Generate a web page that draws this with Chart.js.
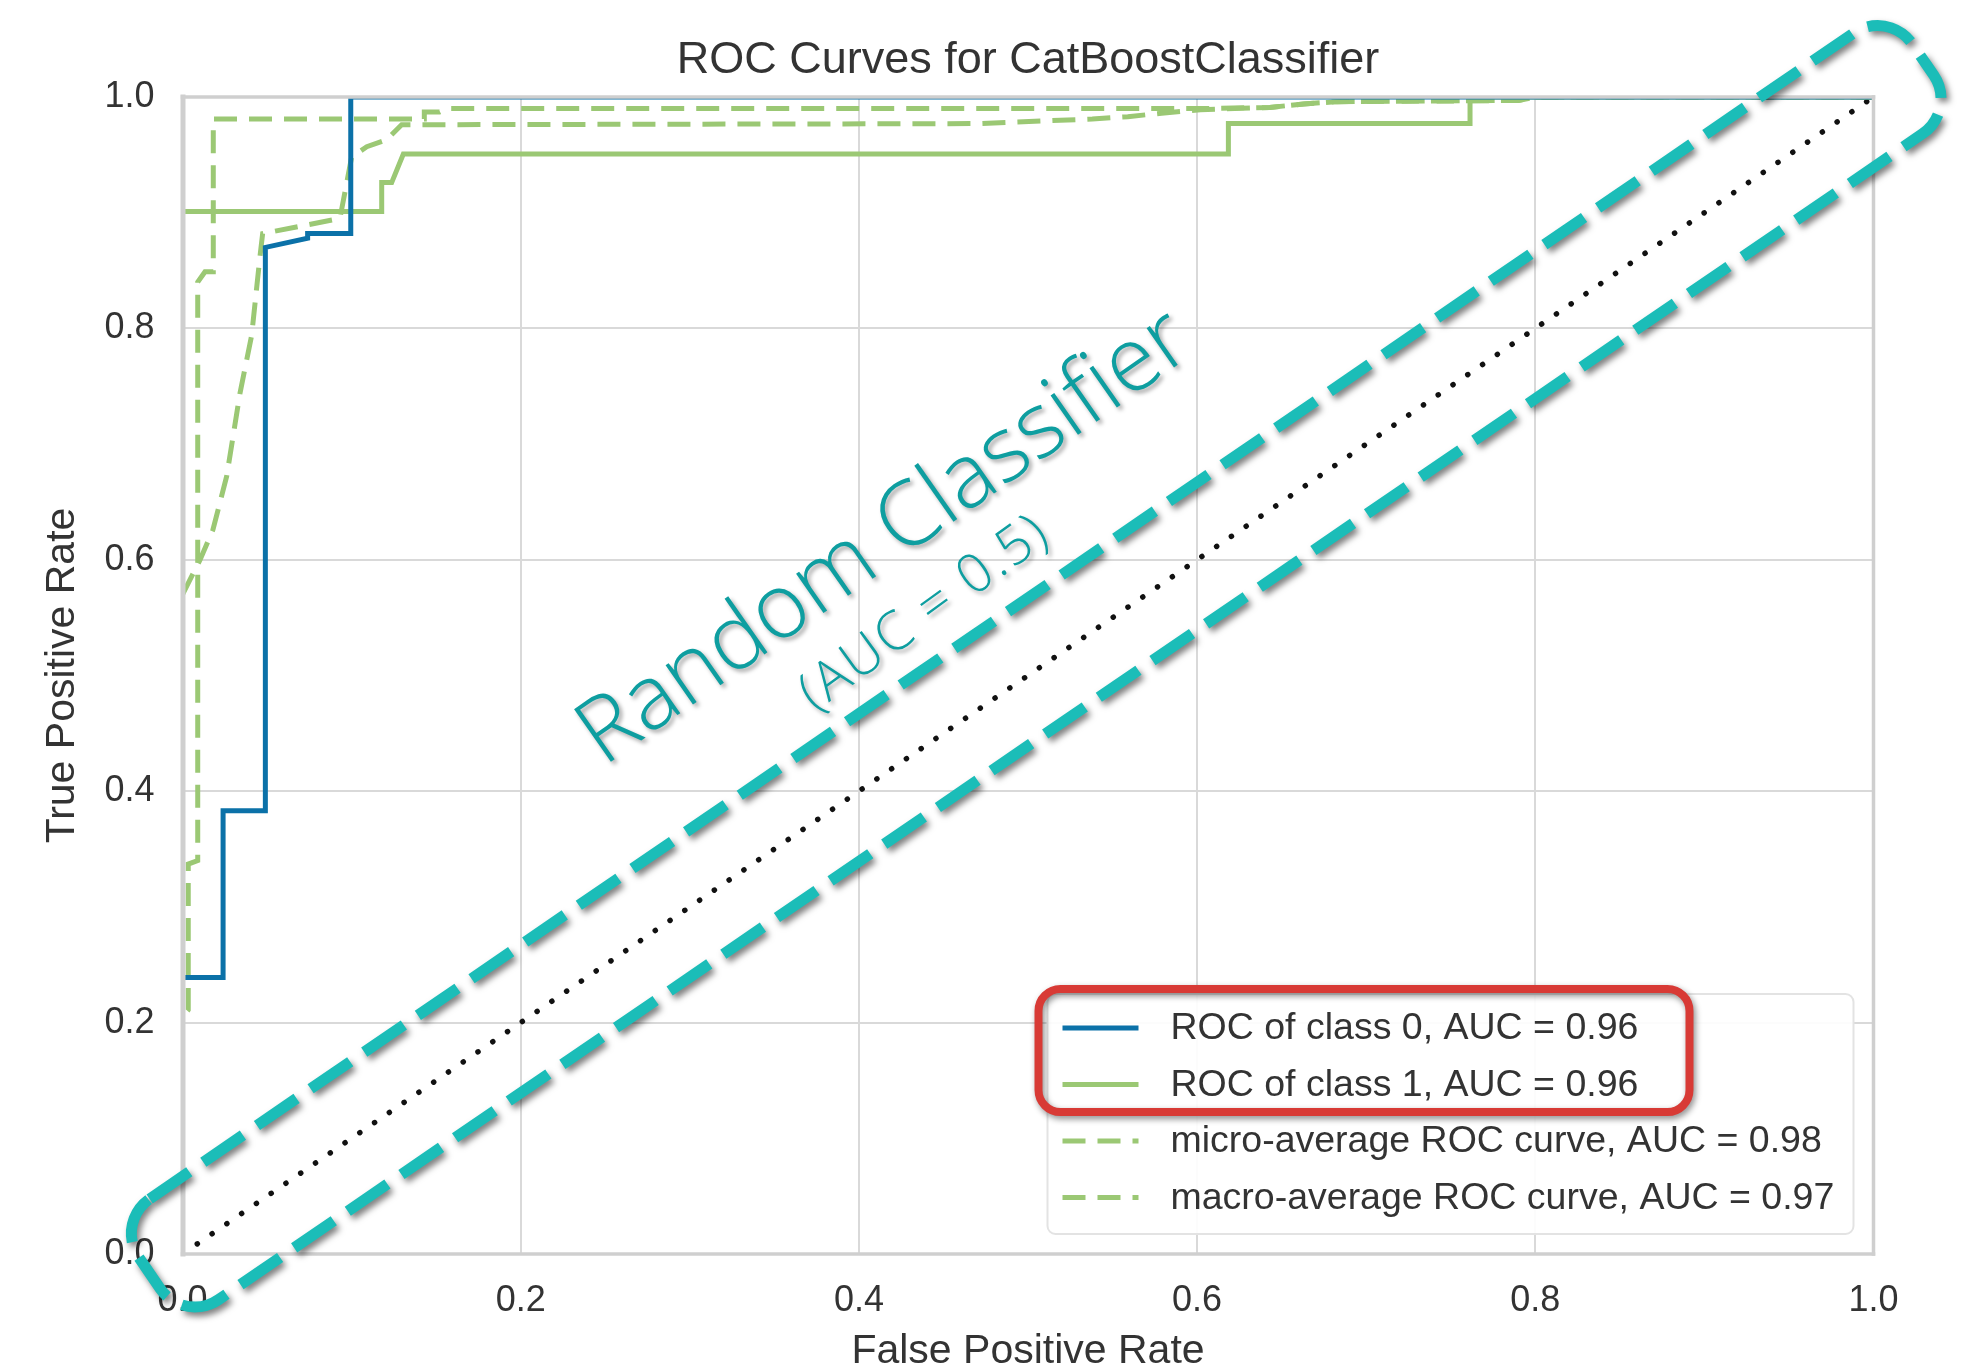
<!DOCTYPE html>
<html><head><meta charset="utf-8">
<script src="https://cdn.jsdelivr.net/npm/chart.js@4.4.0/dist/chart.umd.min.js"></script>
<style>html,body{margin:0;padding:0;background:#fff;}#wrap{width:1983px;height:1372px;}</style>
</head><body><div id="wrap"><canvas id="c" width="1983" height="1372"></canvas></div>
<script>
// ---------- data ----------
const chartTitle = 'ROC Curves for CatBoostClassifier';
const xAxisTitle = 'False Positive Rate';
const yAxisTitle = 'True Positive Rate';
const tickValues = [0, 0.2, 0.4, 0.6, 0.8, 1.0];
const tickLabels = ['0.0', '0.2', '0.4', '0.6', '0.8', '1.0'];
const seriesLabels = ['ROC of class 0, AUC = 0.96', 'ROC of class 1, AUC = 0.96',
  'micro-average ROC curve, AUC = 0.98', 'macro-average ROC curve, AUC = 0.97'];

const class0FPR = [0, 0, 0.024, 0.024, 0.049, 0.049, 0.074, 0.074, 0.0995, 0.0995, 1];
const class0TPR = [0, 0.239, 0.239, 0.383, 0.383, 0.870, 0.878, 0.882, 0.882, 1, 1];

const class1FPR = [0, 0, 0.1178, 0.1178, 0.1237, 0.1306, 0.6185, 0.6185, 0.7614, 0.7614, 1];
const class1TPR = [0, 0.901, 0.901, 0.926, 0.926, 0.9507, 0.9507, 0.977, 0.977, 1, 1];

const microFPR = [0, 0, 0.0034, 0.0034, 0.0090, 0.0090, 0.0133, 0.0182, 0.0182, 0.136, 0.143, 0.143, 0.152, 0.156, 0.60, 0.643, 0.663, 0.683, 0.79, 0.80, 1];
const microTPR = [0, 0.205, 0.211, 0.337, 0.340, 0.840, 0.849, 0.849, 0.981, 0.981, 0.981, 0.987, 0.987, 0.990, 0.990, 0.991, 0.994, 0.996, 0.997, 1, 1];

const macroFPR = [0, 0.0104, 0.018, 0.0261, 0.034, 0.0409, 0.0458, 0.0474, 0.0931, 0.100, 0.109, 0.1207, 0.1296, 0.47, 0.538, 0.559, 0.579, 0.602, 0.643, 0.663, 0.683, 0.79, 0.80, 1];
const macroTPR = [0.570, 0.600, 0.626, 0.672, 0.744, 0.794, 0.862, 0.882, 0.895, 0.948, 0.957, 0.963, 0.976, 0.977, 0.981, 0.983, 0.986, 0.989, 0.991, 0.994, 0.996, 0.997, 1, 1];

const diagFPR = [0, 1];
const diagTPR = [0, 1];

const annotationMain = 'Random Classifier';
const annotationSub = '(AUC = 0.5)';

// ---------- helpers ----------
const pts = (xs, ys) => xs.map((v, i) => ({x: v, y: ys[i]}));
const BLUE = '#0b71a8', GREEN = '#9bc874', TEAL = '#1bbdb8', TEAL_TXT = '#0e9ea0', RED = '#d83a35';
const FONT = '"Liberation Sans", Arial, sans-serif';
const ANN_FONT = '"Open Sans", Lato, sans-serif';
const TXT = '#333333';

function rrPath(ctx, x, y, w, h, r) {
  ctx.beginPath();
  ctx.moveTo(x + r, y);
  ctx.lineTo(x + w - r, y);
  ctx.arcTo(x + w, y, x + w, y + r, r);
  ctx.lineTo(x + w, y + h - r);
  ctx.arcTo(x + w, y + h, x + w - r, y + h, r);
  ctx.lineTo(x + r, y + h);
  ctx.arcTo(x, y + h, x, y + h - r, r);
  ctx.lineTo(x, y + r);
  ctx.arcTo(x, y, x + r, y, r);
  ctx.closePath();
}

const framePlugin = {
  id: 'frame',
  afterDatasetsDraw(chart) {
    const {ctx, chartArea: a} = chart;
    ctx.save();
    ctx.strokeStyle = '#cfcfcf';
    ctx.lineCap = 'square';
    const seg = (x1, y1, x2, y2, w) => { ctx.lineWidth = w; ctx.beginPath(); ctx.moveTo(x1, y1); ctx.lineTo(x2, y2); ctx.stroke(); };
    seg(a.left, a.top, a.right, a.top, 3.5);
    seg(a.right, a.top, a.right, a.bottom, 3.5);
    seg(a.left, a.bottom, a.right, a.bottom, 3.5);
    seg(a.left + 0.5, a.top, a.left + 0.5, a.bottom, 5);
    ctx.restore();
  }
};

const overlayPlugin = {
  id: 'overlay',
  afterDraw(chart) {
    const {ctx, chartArea: a, scales: {x, y}} = chart;
    // ---- chart title centred over the plot area ----
    ctx.save();
    ctx.fillStyle = TXT;
    ctx.font = '45px ' + FONT;
    ctx.textAlign = 'center';
    ctx.textBaseline = 'alphabetic';
    ctx.fillText(chartTitle, (a.left + a.right) / 2, a.top - 24);
    ctx.restore();

    // ---- legend ----
    const lw = 806, lh = 240;
    const lx = a.right - 20 - lw, ly = a.bottom - 20 - lh;
    ctx.save();
    rrPath(ctx, lx, ly, lw, lh, 8);
    ctx.fillStyle = 'rgba(255,255,255,0.9)';
    ctx.fill();
    ctx.strokeStyle = '#e3e3e3';
    ctx.lineWidth = 2;
    ctx.stroke();
    const dsets = chart.data.datasets.filter(d => d.label);
    dsets.forEach((d, i) => {
      const cy = ly + 34 + i * 56.5;
      ctx.beginPath();
      ctx.setLineDash(d.borderDash || []);
      ctx.strokeStyle = d.borderColor;
      ctx.lineWidth = d.borderWidth;
      ctx.moveTo(lx + 15, cy);
      ctx.lineTo(lx + 91, cy);
      ctx.stroke();
      ctx.setLineDash([]);
      ctx.fillStyle = TXT;
      ctx.font = '37.5px ' + FONT;
      ctx.textBaseline = 'middle';
      ctx.textAlign = 'left';
      ctx.fillText(d.label, lx + 123, cy + 1);
    });
    ctx.restore();

    // ---- red highlight box ----
    ctx.save();
    ctx.shadowColor = 'rgba(0,0,0,0.45)';
    ctx.shadowBlur = 6; ctx.shadowOffsetX = 2; ctx.shadowOffsetY = 3;
    rrPath(ctx, lx - 9, ly - 5, 651, 123, 22);
    ctx.strokeStyle = RED;
    ctx.lineWidth = 8;
    ctx.stroke();
    ctx.restore();

    // ---- teal dashed pill along the diagonal ----
    const p0x = x.getPixelForValue(0), p0y = y.getPixelForValue(0);
    const p1x = x.getPixelForValue(1), p1y = y.getPixelForValue(1);
    const ang = Math.atan2(p1y - p0y, p1x - p0x);
    const L = Math.hypot(p1x - p0x, p1y - p0y);
    ctx.save();
    ctx.shadowColor = 'rgba(0,0,0,0.5)';
    ctx.shadowBlur = 6; ctx.shadowOffsetX = 3; ctx.shadowOffsetY = 4;
    ctx.translate(p0x, p0y);
    ctx.rotate(ang);
    rrPath(ctx, -38, -64, L + 100, 122, 42);
    ctx.setLineDash([48, 17]);
    ctx.strokeStyle = TEAL;
    ctx.lineWidth = 11;
    ctx.stroke();
    ctx.restore();

    // ---- annotation text ----
    const drawRot = (txt, vx, vy, deg, size, targetW) => {
      ctx.save();
      ctx.font = '300 ' + size + 'px ' + ANN_FONT;
      const w = ctx.measureText(txt).width;
      if ('letterSpacing' in ctx && txt.length > 1) {
        ctx.letterSpacing = Math.max(0, (targetW - w) / (txt.length - 1)).toFixed(2) + 'px';
      }
      ctx.translate(x.getPixelForValue(vx), y.getPixelForValue(vy));
      ctx.rotate(-deg * Math.PI / 180);
      ctx.shadowColor = 'rgba(0,0,0,0.35)';
      ctx.shadowBlur = 4; ctx.shadowOffsetX = 3; ctx.shadowOffsetY = 3;
      ctx.fillStyle = TEAL_TXT;
      ctx.textBaseline = 'alphabetic';
      ctx.textAlign = 'left';
      ctx.fillText(txt, 0, 0);
      ctx.restore();
    };
    drawRot(annotationMain, 0.249, 0.421, 35, 90, 720);
    drawRot(annotationSub, 0.374, 0.468, 36, 54, 292);
  }
};

const lineDs = (label, xs, ys, color, dash) => ({
  label, data: pts(xs, ys), borderColor: color, borderWidth: 5, borderDash: dash,
  pointRadius: 0, fill: false, tension: 0, clip: 0, borderJoinStyle: 'miter'
});

new Chart(document.getElementById('c'), {
  type: 'line',
  data: {
    datasets: [
      lineDs(seriesLabels[0], class0FPR, class0TPR, BLUE, []),
      lineDs(seriesLabels[1], class1FPR, class1TPR, GREEN, []),
      lineDs(seriesLabels[2], microFPR, microTPR, GREEN, [23, 12]),
      lineDs(seriesLabels[3], macroFPR, macroTPR, GREEN, [23, 12]),
      {label: '', data: pts(diagFPR, diagTPR), borderColor: '#111111', borderWidth: 5.5,
       borderDash: [0.1, 17.8], borderCapStyle: 'round', pointRadius: 0, fill: false, clip: 0}
    ]
  },
  options: {
    responsive: false, animation: false, devicePixelRatio: 1,
    layout: {padding: {left: 0, right: 109.5, top: 97, bottom: 0}},
    plugins: {
      legend: {display: false}, tooltip: {enabled: false}, title: {display: false}
    },
    scales: {
      x: {
        type: 'linear', min: 0, max: 1,
        afterFit(s) { s.height = 118; },
        afterBuildTicks(s) { s.ticks = tickValues.map(v => ({value: v})); },
        ticks: {callback: (v, i) => tickLabels[i], color: TXT, padding: 25, maxRotation: 0, autoSkip: false,
          font: {family: FONT, size: 36}},
        grid: {color: '#d9d9d9', lineWidth: 2, drawTicks: false, tickLength: 0},
        border: {display: false},
        title: {display: true, text: xAxisTitle, color: TXT, font: {family: FONT, size: 41, lineHeight: 1}, padding: {top: 0, bottom: 0}}
      },
      y: {
        type: 'linear', min: 0, max: 1,
        afterFit(s) { s.width = 182.5; },
        afterBuildTicks(s) { s.ticks = tickValues.map(v => ({value: v})); },
        ticks: {callback: (v, i) => tickLabels[i], color: TXT, padding: 28, autoSkip: false,
          font: {family: FONT, size: 36}},
        grid: {color: '#d9d9d9', lineWidth: 2, drawTicks: false, tickLength: 0},
        border: {display: false},
        title: {display: true, text: yAxisTitle, color: TXT, font: {family: FONT, size: 41, lineHeight: 1}, padding: {top: 42, bottom: 0}}
      }
    }
  },
  plugins: [framePlugin, overlayPlugin]
});
</script></body></html>
